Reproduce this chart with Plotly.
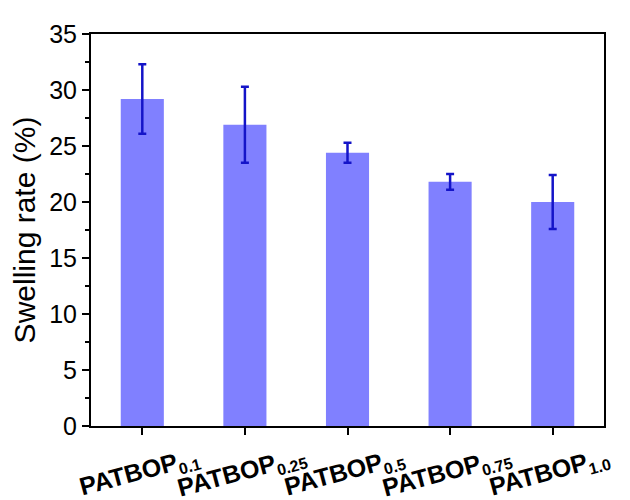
import plotly.graph_objects as go

# data
samples = ["0.1", "0.25", "0.5", "0.75", "1.0"]
swelling = [29.2, 26.9, 24.4, 21.8, 20.0]
err = [3.1, 3.4, 0.9, 0.7, 2.4]

labels = ["<b>PATBOP</b><sub><b><span style='font-size:16px'>%s</span></b></sub>" % s
          for s in samples]
xpos = list(range(len(samples)))

fig = go.Figure()
fig.add_trace(go.Bar(
    x=xpos, y=swelling, width=0.42,
    marker=dict(color="#8080FF", line=dict(width=0)),
    error_y=dict(type="data", array=err, visible=True,
                 color="#1414C8", thickness=2.5, width=4),
))

# slanted category labels
for xi, lab in zip(xpos, labels):
    fig.add_annotation(x=xi, y=0, xref="x", yref="paper", text=lab,
                       showarrow=False, textangle=-15, yshift=-46, xshift=-3,
                       xanchor="center", yanchor="middle",
                       font=dict(family="Arial, Liberation Sans", size=25, color="black"))

fig.update_layout(
    width=630, height=500,
    margin=dict(l=83, r=34, t=15, b=82),
    plot_bgcolor="white", paper_bgcolor="white",
    showlegend=False,
    font=dict(family="Arial, Liberation Sans", color="black"),
)
fig.update_xaxes(
    range=[-0.5, 4.5], tickvals=xpos, showticklabels=False,
    ticks="outside", ticklen=7, tickwidth=2, tickcolor="black",
    showline=True, linewidth=2, linecolor="black", mirror=True,
    showgrid=False, zeroline=False,
)
fig.update_yaxes(
    range=[0, 35], dtick=5, ticks="outside", ticklen=7, tickwidth=2,
    tickcolor="black", tickfont=dict(size=25),
    minor=dict(dtick=2.5, ticks="outside", ticklen=4, tickwidth=2, tickcolor="black"),
    showline=True, linewidth=2, linecolor="black", mirror=True,
    showgrid=False, zeroline=False,
    title=dict(text="Swelling rate (%)", font=dict(size=30), standoff=6),
)

fig.write_html("out.html")
